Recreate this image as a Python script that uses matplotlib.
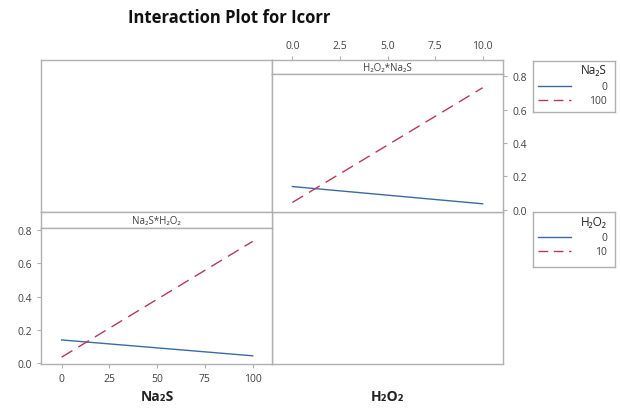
import matplotlib.pyplot as plt

# cell means of Icorr (rows: Na2S level, columns: H2O2 level)
na2s_levels = [0, 100]
h2o2_levels = [0, 10]
icorr_na2s_0 = [0.14, 0.037]    # Na2S = 0 at H2O2 = 0, 10
icorr_na2s_100 = [0.045, 0.73]  # Na2S = 100 at H2O2 = 0, 10

na2s_ticks = [0, 25, 50, 75, 100]
h2o2_ticks = [0.0, 2.5, 5.0, 7.5, 10.0]
y_ticks = [0.0, 0.2, 0.4, 0.6, 0.8]

plt.rcParams['font.family'] = ['Open Sans', 'DejaVu Sans']

W, H = 620, 410
BLUE = '#3a6aa6'
RED = '#b53a55'
GRAY = '#b0b0b0'
TXT = '#404040'


def fx(px):
    return px / W


def fy(py):
    return 1 - py / H


def box(x0, y0, x1, y1):
    # axes in pixel coords (top-left origin)
    return [fx(x0), fy(y1), fx(x1) - fx(x0), fy(y0) - fy(y1)]


def frame(ax):
    for s in ax.spines.values():
        s.set_color(GRAY)
        s.set_linewidth(1.0)


fig = plt.figure(figsize=(6.2, 4.1), dpi=100)

XL, XM, XR = 41, 272, 503
YT, YM, YB = 61, 213, 365

# empty diagonal panels
for b in [box(XL, YT, XM, YM), box(XM, YM, XR, YB)]:
    a = fig.add_axes(b)
    a.set_xticks([])
    a.set_yticks([])
    frame(a)

# top-right panel: x = H2O2, lines by Na2S
strip1 = fig.add_axes(box(XM, YT, XR, 75))
ax1 = fig.add_axes(box(XM, 75, XR, YM))
ax1.plot(h2o2_levels, icorr_na2s_0, color=BLUE, lw=1.0)
ax1.plot(h2o2_levels, icorr_na2s_100, color=RED, lw=1.0, dashes=(9, 5))
ax1.set_xlim(-1.07, 11.07)
ax1.set_ylim(-0.012, 0.812)
ax1.set_xticks([])
ax1.yaxis.tick_right()
ax1.set_yticks(y_ticks)
ax1.set_yticklabels([f'{v:.1f}' for v in y_ticks])
strip1.set_xlim(ax1.get_xlim())
strip1.set_yticks([])
strip1.xaxis.tick_top()
strip1.set_xticks(h2o2_ticks)
strip1.set_xticklabels([f'{v:.1f}' for v in h2o2_ticks])
strip1.text(0.5, 0.45, 'H₂O₂*Na₂S', transform=strip1.transAxes,
            ha='center', va='center', fontsize=7, color=TXT)

# bottom-left panel: x = Na2S, lines by H2O2
strip2 = fig.add_axes(box(XL, YM, XM, 229))
ax2 = fig.add_axes(box(XL, 229, XM, YB))
ax2.plot(na2s_levels, [icorr_na2s_0[0], icorr_na2s_100[0]], color=BLUE, lw=1.0)
ax2.plot(na2s_levels, [icorr_na2s_0[1], icorr_na2s_100[1]], color=RED, lw=1.0,
         dashes=(9, 5))
ax2.set_xlim(-10.8, 110.1)
ax2.set_ylim(-0.004, 0.81)
ax2.set_xticks(na2s_ticks)
ax2.set_yticks(y_ticks)
ax2.set_yticklabels([f'{v:.1f}' for v in y_ticks])
strip2.set_xticks([])
strip2.set_yticks([])
strip2.text(0.5, 0.45, 'Na₂S*H₂O₂', transform=strip2.transAxes,
            ha='center', va='center', fontsize=7, color=TXT)

for a in [ax1, ax2, strip1, strip2]:
    frame(a)
    a.tick_params(labelsize=7.5, colors=GRAY, labelcolor=TXT, length=3, width=0.8)

# title and axis names
fig.text(fx(229), fy(18), 'Interaction Plot for Icorr', ha='center', va='center',
         fontsize=12, fontweight='bold', color='#111111')
fig.text(fx(157), fy(397), 'Na₂S', ha='center', va='center', fontsize=10,
         fontweight='bold', color='#222222')
fig.text(fx(388), fy(397), 'H₂O₂', ha='center', va='center', fontsize=10,
         fontweight='bold', color='#222222')


# legends drawn in small boxes
def legend_box(y0, y1, title, labels):
    lg = fig.add_axes(box(533, y0, 615, y1))
    lg.set_xlim(533, 615)
    lg.set_ylim(y1, y0)
    lg.set_xticks([])
    lg.set_yticks([])
    frame(lg)
    lg.text(607, y0 + 9, title, ha='right', va='center', fontsize=8.5, color='#222222')
    rows = [y0 + 25, y0 + 39]
    styles = [dict(color=BLUE), dict(color=RED, dashes=(7, 4))]
    for r, lab, st in zip(rows, labels, styles):
        lg.plot([538, 571], [r, r], lw=1.0, **st)
        lg.text(607, r, lab, ha='right', va='center', fontsize=7.5, color=TXT)


legend_box(62, 113, 'Na₂S', ['0', '100'])
legend_box(213, 268, 'H₂O₂', ['0', '10'])

fig.savefig('out.png', dpi=100)
